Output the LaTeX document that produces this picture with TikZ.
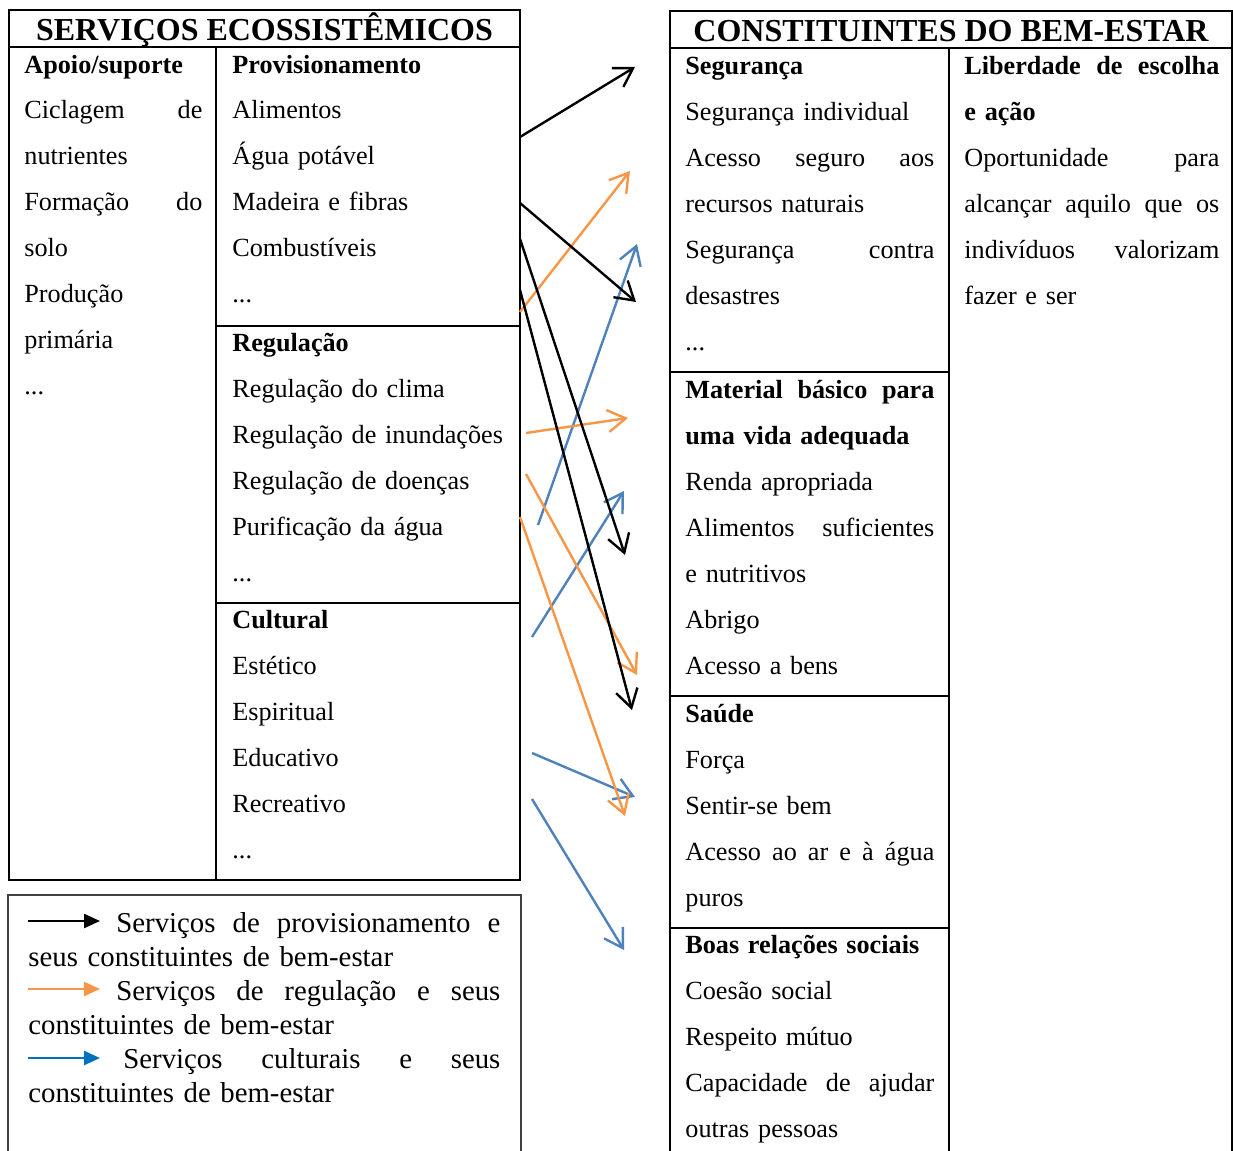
\documentclass[tikz,border=0pt]{standalone}
\usepackage{fontspec}
\setmainfont{Liberation Serif}
\usetikzlibrary{arrows.meta}
\definecolor{regcolor}{RGB}{247,150,70}
\definecolor{cultcolor}{RGB}{79,129,189}
\definecolor{legblue}{RGB}{0,112,192}

\begin{document}
\begin{tikzpicture}[x=0.5pt, y=-0.5pt,
    frame/.style={line width=1.2pt},
    title/.style={anchor=base, inner sep=0pt, font=\fontsize{16}{19}\selectfont\bfseries},
    cell/.style={anchor=base west, inner sep=0pt, font=\fontsize{13.1}{23}\selectfont},
    serv/.style={line width=1.2pt, -{Straight Barb[length=9pt, width=11pt, line width=1.2pt]}},
    legarrow/.style={line width=1.2pt, -{Triangle[length=8pt, width=7pt]}}]
    \useasboundingbox (0,0) rectangle (1233,1151);

    % Left table
    \draw[frame] (9,10) rectangle (520,880);
    \draw[frame] (9,47) -- (520,47);
    \draw[frame] (216,47) -- (216,880);
    \draw[frame] (216,326) -- (520,326);
    \draw[frame] (216,603) -- (520,603);
    \node[title] (sertitle) at (264.5,40) {SERVIÇOS ECOSSISTÊMICOS};
    \node[cell, text width=89pt] (apoio) at (24,73) {\textbf{Apoio/suporte}\\ Ciclagem\hfill de\\ nutrientes\\ Formação\hfill do\\ solo\\ Produção\\ primária\\ ...};
    \node[cell, text width=142pt] (prov) at (232,73) {\textbf{Provisionamento}\\ Alimentos\\ Água potável\\ Madeira e fibras\\ Combustíveis\\ ...};
    \node[cell, text width=142pt] (reg) at (232,351) {\textbf{Regulação}\\ Regulação do clima\\ Regulação de inundações\\ Regulação de doenças\\ Purificação da água\\ ...};
    \node[cell, text width=142pt] (cult) at (232,628) {\textbf{Cultural}\\ Estético\\ Espiritual\\ Educativo\\ Recreativo\\ ...};

    % Right table
    \draw[frame] (670,1155) -- (670,11) -- (1232,11) -- (1232,1155);
    \draw[frame] (670,48) -- (1232,48);
    \draw[frame] (949,48) -- (949,1155);
    \draw[frame] (670,372) -- (949,372);
    \draw[frame] (670,696) -- (949,696);
    \draw[frame] (670,928) -- (949,928);
    \node[title] (bemtitle) at (951,41) {CONSTITUINTES DO BEM-ESTAR};
    \node[cell, text width=124.5pt] (seg) at (685,75) {\textbf{Segurança}\\ Segurança individual\\ Acesso\hfill seguro\hfill aos\\ recursos naturais\\ Segurança\hfill contra\\ desastres\\ ...};
    \node[cell, text width=124.5pt] (mat) at (685,398) {\textbf{Material\hfill básico\hfill para}\\ \textbf{uma vida adequada}\\ Renda apropriada\\ Alimentos\hfill suficientes\\ e nutritivos\\ Abrigo\\ Acesso a bens};
    \node[cell, text width=124.5pt] (saude) at (685,722) {\textbf{Saúde}\\ Força\\ Sentir-se bem\\ Acesso\hfill ao\hfill ar\hfill e\hfill à\hfill água\\ puros};
    \node[cell, text width=124.5pt] (boas) at (685,953) {\textbf{Boas relações sociais}\\ Coesão social\\ Respeito mútuo\\ Capacidade\hfill de\hfill ajudar\\ outras pessoas};
    \node[cell, text width=127.5pt] (lib) at (964,75) {\textbf{Liberdade\hfill de\hfill escolha}\\ \textbf{e ação}\\ Oportunidade\hfill para\\ alcançar\hfill aquilo\hfill que\hfill os\\ indivíduos\hfill valorizam\\ fazer e ser};

    % Arrow ends
    \coordinate (prov1a) at (520,137); \coordinate (prov1b) at (635,67);
    \coordinate (prov2a) at (520,203); \coordinate (prov2b) at (636,302);
    \coordinate (prov3a) at (520,239); \coordinate (prov3b) at (625,555);
    \coordinate (prov4a) at (520,290); \coordinate (prov4b) at (632,710);
    \coordinate (reg1a) at (520,312); \coordinate (reg1b) at (630,171);
    \coordinate (reg2a) at (526,433); \coordinate (reg2b) at (628,418);
    \coordinate (reg3a) at (526,474); \coordinate (reg3b) at (637,675);
    \coordinate (reg4a) at (520,517); \coordinate (reg4b) at (625,816);
    \coordinate (cult1a) at (538,525); \coordinate (cult1b) at (637,244);
    \coordinate (cult2a) at (532,637); \coordinate (cult2b) at (624,491);
    \coordinate (cult3a) at (532,753); \coordinate (cult3b) at (635,797);
    \coordinate (cult4a) at (532,799); \coordinate (cult4b) at (624,950);

    % Arrows
    \foreach \n in {1,...,4} {
        \draw[serv, draw=black] (prov\n a) -- (prov\n b);
        \draw[serv, draw=regcolor] (reg\n a) -- (reg\n b);
        \draw[serv, draw=cultcolor] (cult\n a) -- (cult\n b);
    }

    % Legend
    \draw[frame, draw=black!75] (8,1155) -- (8,895) -- (521,895) -- (521,1155);
    \coordinate (leg1a) at (28,921); \coordinate (leg1b) at (100,921);
    \coordinate (leg2a) at (28,989); \coordinate (leg2b) at (100,989);
    \coordinate (leg3a) at (28,1058); \coordinate (leg3b) at (100,1058);
    \draw[legarrow, black] (leg1a) -- (leg1b);
    \draw[legarrow, regcolor] (leg2a) -- (leg2b);
    \draw[legarrow, legblue] (leg3a) -- (leg3b);
    \node[anchor=base west, inner sep=0pt, text width=236pt, font=\fontsize{14.4}{17}\selectfont] (legtext) at (28,932)
        {\hspace*{44pt}Serviços\hfill de\hfill provisionamento\hfill e\\
         seus constituintes de bem-estar\\
         \hspace*{44pt}Serviços\hfill de\hfill regulação\hfill e\hfill seus\\
         constituintes de bem-estar\\
         \hspace*{47.5pt}Serviços\hfill culturais\hfill e\hfill seus\\
         constituintes de bem-estar};
\end{tikzpicture}
\end{document}
